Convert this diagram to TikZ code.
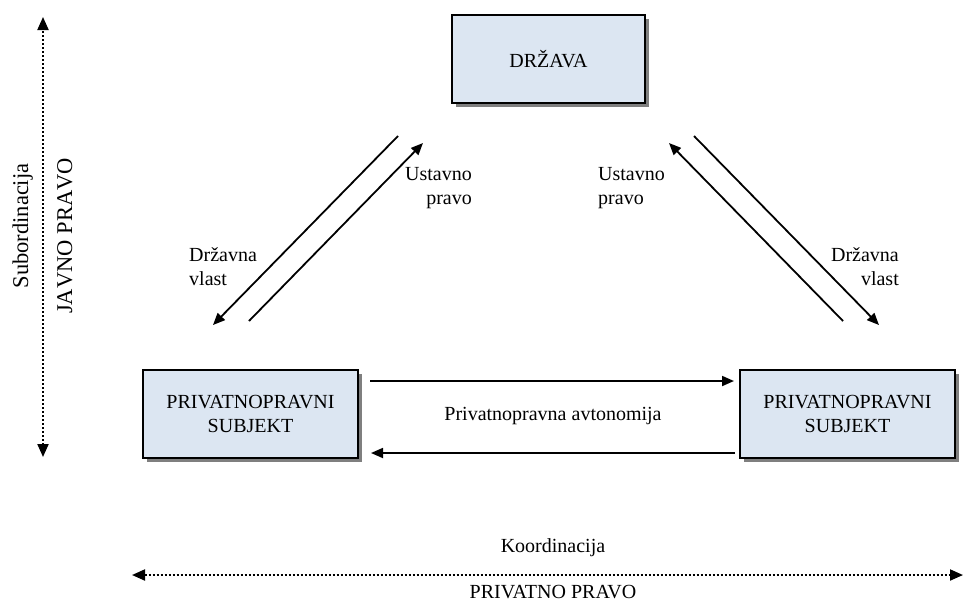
\documentclass[tikz,border=0pt]{standalone}
\usepackage{fontspec}
\setmainfont{Liberation Serif}
\usetikzlibrary{arrows.meta,shadows}
\begin{document}
\begin{tikzpicture}[x=1pt,y=-1pt,
  font=\fontsize{20}{24}\selectfont,
  box/.style={draw=black,line width=1.3pt,fill=boxfill,align=center,
    inner sep=0pt,minimum height=88pt,
    drop shadow={shadow xshift=4pt,shadow yshift=-4pt,fill=shadowgray,opacity=1}},
  conn/.style={line width=1.8pt,-{Triangle[length=12pt,width=10pt]}},
  axis/.style={line width=2pt,dash pattern=on 2pt off 2pt,
    {Triangle[length=13pt,width=11pt]}-{Triangle[length=13pt,width=11pt]}},
  lbl/.style={inner sep=0pt,align=left},
  vlbl/.style={inner sep=0pt,rotate=90,anchor=base,font=\fontsize{22.5}{26}\selectfont}]
\definecolor{boxfill}{HTML}{DCE6F2}
\definecolor{shadowgray}{HTML}{7F7F7F}
\useasboundingbox (0,0) rectangle (965,603);
% boxes
\node[box,minimum width=193pt] (drz) at (548.5,59) {DRŽAVA};
\node[box,minimum width=215pt] (ps1) at (250.5,414) {PRIVATNOPRAVNI\\SUBJEKT};
\node[box,minimum width=215pt] (ps2) at (847.5,414) {PRIVATNOPRAVNI\\SUBJEKT};
% connector end points
\coordinate (l1s) at (398,136); \coordinate (l1e) at (213,325);
\coordinate (l2s) at (249,321); \coordinate (l2e) at (423,143);
\coordinate (r1s) at (694,136); \coordinate (r1e) at (879,325);
\coordinate (r2s) at (843,321); \coordinate (r2e) at (669,143);
\coordinate (h1s) at (370,381); \coordinate (h1e) at (734,381);
\coordinate (h2s) at (735,453); \coordinate (h2e) at (371,453);
\draw[conn] (l1s) -- (l1e);
\draw[conn] (l2s) -- (l2e);
\draw[conn] (r1s) -- (r1e);
\draw[conn] (r2s) -- (r2e);
\draw[conn] (h1s) -- (h1e);
\draw[conn] (h2s) -- (h2e);
% labels
\node[lbl,anchor=base east,align=right] (ust1) at (472,204) {Ustavno\\pravo};
\node[lbl,anchor=base west,align=left] (ust2) at (598,204) {Ustavno\\pravo};
\node[lbl,anchor=base west,align=left] (drv1) at (189,285) {Državna\\vlast};
\node[lbl,anchor=base east,align=right] (drv2) at (899,285) {Državna\\vlast};
\node[lbl,anchor=base] (pa) at (553,420) {Privatnopravna avtonomija};
% axes
\coordinate (vt) at (43,17); \coordinate (vb) at (43,457);
\draw[axis] (vb) -- (vt);
\coordinate (hl) at (132,575); \coordinate (hr) at (963,575);
\draw[axis] (hl) -- (hr);
\node[vlbl] (sub) at (28,226) {Subordinacija};
\node[vlbl] (jp) at (72,236) {\addfontfeatures{Kerning=Off}JAVNO PRAVO};
\node[lbl,anchor=base] (koo) at (553,552) {Koordinacija};
\node[lbl,anchor=base] (pp) at (553,598) {PRIVATNO PRAVO};
\end{tikzpicture}
\end{document}
